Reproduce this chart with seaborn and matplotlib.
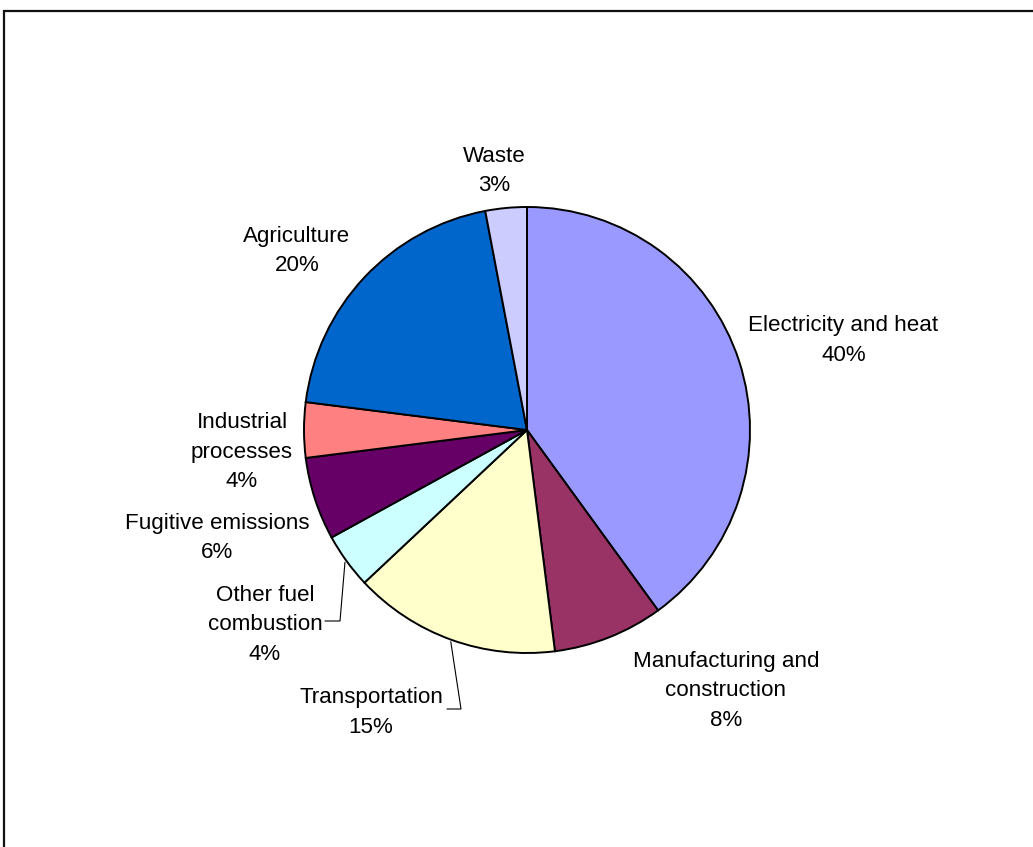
import matplotlib
matplotlib.use("Agg")
import matplotlib.pyplot as plt
import seaborn as sns
import numpy as np
from matplotlib.patches import Rectangle

# Greenhouse-gas emissions by sector (share of total, %)
sectors = [
    "Electricity and heat",
    "Manufacturing and construction",
    "Transportation",
    "Other fuel combustion",
    "Fugitive emissions",
    "Industrial processes",
    "Agriculture",
    "Waste",
]
shares = [40, 8, 15, 4, 6, 4, 20, 3]
colors = ["#9999FF", "#993366", "#FFFFCC", "#CCFFFF",
          "#660066", "#FF8080", "#0066CC", "#CCCCFF"]

# How each sector name is broken across lines
label_lines = {
    "Electricity and heat": ["Electricity and heat"],
    "Manufacturing and construction": ["Manufacturing and", "construction"],
    "Transportation": ["Transportation"],
    "Other fuel combustion": ["Other fuel", "combustion"],
    "Fugitive emissions": ["Fugitive emissions"],
    "Industrial processes": ["Industrial", "processes"],
    "Agriculture": ["Agriculture"],
    "Waste": ["Waste"],
}

sns.set_theme(style="white")
plt.rcParams["font.family"] = ["Liberation Sans", "DejaVu Sans"]

W, H = 1033, 847
fig = plt.figure(figsize=(W / 100, H / 100), dpi=100)
ax = fig.add_axes([0, 0, 1, 1])

# layout in pixel units measured from the top-left corner
pie_cx, pie_cy, pie_r = 527, 430, 223
label_pos = {  # (centre x, first baseline y)
    "Electricity and heat": (843.5, 331),
    "Manufacturing and construction": (726, 667),
    "Transportation": (371, 703),
    "Other fuel combustion": (265, 601),
    "Fugitive emissions": (217, 529),
    "Industrial processes": (242, 428),
    "Agriculture": (297, 241.5),
    "Waste": (494, 161.5),
}
leader_start = {  # horizontal stub next to the label
    "Other fuel combustion": ((325, 621), (340, 621)),
    "Transportation": ((447, 709), (461, 709)),
}
line_step = 29.5
fsize = 16.1

def up(y):
    return H - y

wedges, _ = ax.pie(
    shares,
    colors=colors,
    startangle=90,
    counterclock=False,
    center=(pie_cx, up(pie_cy)),
    radius=pie_r,
    wedgeprops=dict(edgecolor="black", linewidth=1.4),
)

for name, share, w in zip(sectors, shares, wedges):
    x, b0 = label_pos[name]
    lines = label_lines[name] + [f"{share}%"]
    for i, line in enumerate(lines):
        ax.text(x, up(b0 + i * line_step), line, ha="center", va="baseline",
                fontsize=fsize, color="black")
    if name in leader_start:
        (x0, y0), (x1, y1) = leader_start[name]
        mid = np.deg2rad((w.theta1 + w.theta2) / 2)
        ex = pie_cx + (pie_r + 2) * np.cos(mid)
        ey = up(pie_cy) + (pie_r + 2) * np.sin(mid)
        ax.plot([x0, x1, ex], [up(y0), up(y1), ey], color="black", lw=0.8,
                solid_joinstyle="miter")

# chart-area border
ax.add_patch(Rectangle((4, -20), W + 20, up(11) + 20, fill=False,
                       edgecolor="#111111", linewidth=1.6))

ax.set_xlim(0, W)
ax.set_ylim(0, H)
ax.set_aspect("equal")
ax.set_axis_off()

fig.savefig("out.png", dpi=100, facecolor="white")
